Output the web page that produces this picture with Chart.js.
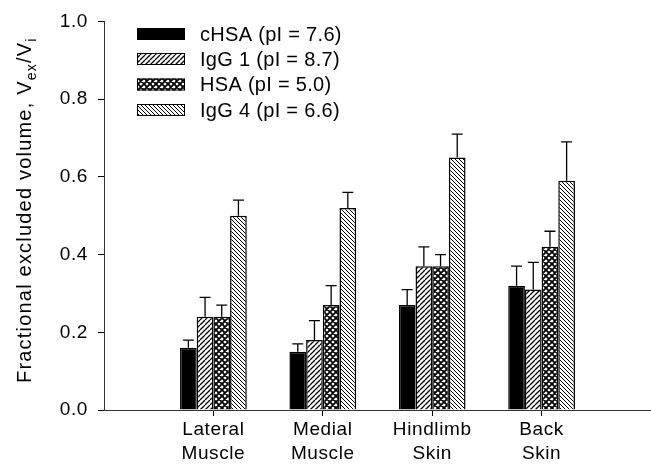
<!DOCTYPE html>
<html>
<head>
<meta charset="utf-8">
<script src="https://cdn.jsdelivr.net/npm/chart.js@4.4.1/dist/chart.umd.min.js"></script>
<style>
  html, body { margin: 0; padding: 0; background: #fff; }
  #wrap { width: 651px; height: 464px; position: relative; }
</style>
</head>
<body>
<div id="wrap"><canvas id="myBars"></canvas></div>
<script>
// categories (empty slots at both ends keep the groups where the original has them)
const categories = ['', ['Lateral', 'Muscle'], ['Medial', 'Muscle'], ['Hindlimb', 'Skin'], ['Back', 'Skin'], ''];
const seriesNames = ['cHSA (pI = 7.6)', 'IgG 1 (pI = 8.7)', 'HSA (pI = 5.0)', 'IgG 4 (pI = 6.6)'];

// mean values
const cHSA = [0.16, 0.15, 0.27, 0.32];
const igg1 = [0.24, 0.18, 0.37, 0.31];
const hsa  = [0.24, 0.27, 0.37, 0.42];
const igg4 = [0.50, 0.52, 0.65, 0.59];

// upper error (SD)
const cHSAErr = [0.02, 0.02, 0.04, 0.05];
const igg1Err = [0.05, 0.05, 0.05, 0.07];
const hsaErr  = [0.03, 0.05, 0.03, 0.04];
const igg4Err = [0.04, 0.04, 0.06, 0.10];

const yTicks = [0, 0.2, 0.4, 0.6, 0.8, 1.0];

const pad = arr => [null, ...arr, null];

function hatch(size, lw, dir) {
  const c = document.createElement('canvas');
  c.width = size; c.height = size;
  const g = c.getContext('2d');
  g.fillStyle = '#fff';
  g.fillRect(0, 0, size, size);
  g.strokeStyle = '#000';
  g.lineWidth = lw;
  g.beginPath();
  for (let k = -1; k <= 1; k++) {
    if (dir === '/' || dir === 'x') { g.moveTo(k * size, size); g.lineTo(k * size + size, 0); }
    if (dir === '\\' || dir === 'x') { g.moveTo(k * size, 0); g.lineTo(k * size + size, size); }
  }
  g.stroke();
  return g.createPattern(c, 'repeat');
}

const fills = ['#000', hatch(5, 1.3, '/'), hatch(6, 1.8, 'x'), hatch(4, 1, '\\')];
const values = [cHSA, igg1, hsa, igg4];
const errors = [cHSAErr, igg1Err, hsaErr, igg4Err];

const font = 'Arial, "Liberation Sans", sans-serif';

// error bars, upper side only
const errorBars = {
  id: 'errorBars',
  afterDatasetsDraw(chart) {
    const ctx = chart.ctx, y = chart.scales.y;
    ctx.save();
    ctx.strokeStyle = '#000';
    ctx.lineWidth = 1.3;
    chart.data.datasets.forEach((ds, i) => {
      const meta = chart.getDatasetMeta(i);
      meta.data.forEach((bar, j) => {
        const v = ds.data[j];
        if (v == null) return;
        const top = y.getPixelForValue(v + errors[i][j - 1]);
        ctx.beginPath();
        ctx.moveTo(bar.x, bar.y);
        ctx.lineTo(bar.x, top);
        ctx.moveTo(bar.x - 5.5, top);
        ctx.lineTo(bar.x + 5.5, top);
        ctx.stroke();
      });
    });
    ctx.restore();
  }
};

// legend + y title with subscripts
const extras = {
  id: 'extras',
  beforeDraw(chart) {
    chart.ctx.letterSpacing = '0.6px';
  },
  afterDraw(chart) {
    const ctx = chart.ctx;
    ctx.save();
    ctx.font = '20px ' + font;
    ctx.letterSpacing = '0.3px';
    ctx.textBaseline = 'middle';
    ctx.fillStyle = '#000';
    const rows = [34, 59, 84.5, 110];
    seriesNames.forEach((name, i) => {
      ctx.fillStyle = fills[i];
      ctx.fillRect(137, rows[i] - 6, 48, 12);
      ctx.strokeStyle = '#000';
      ctx.lineWidth = 1;
      ctx.strokeRect(137.5, rows[i] - 5.5, 47, 11);
      ctx.fillStyle = '#000';
      ctx.fillText(name, 200, rows[i] + 1);
    });

    // y axis title
    ctx.translate(31, 383);
    ctx.rotate(-Math.PI / 2);
    ctx.textBaseline = 'alphabetic';
    ctx.textAlign = 'left';
    ctx.letterSpacing = '1.2px';
    const big = '20px ' + font, small = '14px ' + font;
    const parts = [['Fractional excluded volume, V', big, 0], ['ex', small, 5], ['/V', big, 0], ['i', small, 5]];
    let x = 0;
    parts.forEach(p => {
      ctx.font = p[1];
      ctx.fillText(p[0], x, p[2]);
      x += ctx.measureText(p[0]).width;
    });
    ctx.restore();
  }
};

new Chart(document.getElementById('myBars'), {
  type: 'bar',
  data: {
    labels: categories,
    datasets: values.map((v, i) => ({
      label: seriesNames[i],
      data: pad(v),
      backgroundColor: fills[i],
      borderColor: '#000',
      borderWidth: 1.5,
      categoryPercentage: 0.61,
      barPercentage: 1.0
    }))
  },
  options: {
    responsive: true,
    maintainAspectRatio: false,
    animation: false,
    layout: { padding: { top: 21, right: -8, left: 0, bottom: 0 } },
    plugins: {
      legend: { display: false },
      tooltip: { enabled: false }
    },
    scales: {
      x: {
        offset: false,
        afterFit(scale) {
          scale.height = 54;
          scale.paddingLeft = 0;
          scale.paddingRight = 0;
        },
        grid: {
          offset: false,
          drawOnChartArea: false,
          tickLength: 6,
          color: c => (c.index === 0 || c.index === categories.length - 1) ? 'rgba(0,0,0,0)' : '#000'
        },
        border: { display: true, color: '#333', width: 1 },
        ticks: {
          color: '#000',
          padding: 2,
          maxRotation: 0,
          autoSkip: false,
          font: { family: font, size: 19, lineHeight: 1.25 }
        }
      },
      y: {
        min: 0,
        max: 1,
        afterFit(scale) { scale.width = 104; },
        afterBuildTicks(scale) { scale.ticks = yTicks.map(v => ({ value: v })); },
        grid: { drawOnChartArea: false, tickLength: 6, color: '#000' },
        border: { display: true, color: '#333', width: 1 },
        ticks: {
          color: '#000',
          padding: 10,
          font: { family: font, size: 19 },
          callback: v => v.toFixed(1)
        }
      }
    }
  },
  plugins: [errorBars, extras]
});
</script>
</body>
</html>
